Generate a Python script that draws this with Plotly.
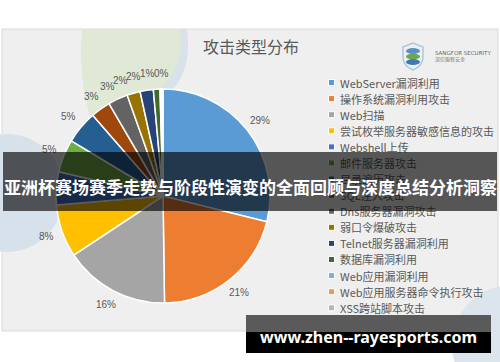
import math
import plotly.graph_objects as go

# ---------------- data ----------------
categories = ["WebServer漏洞利用", "操作系统漏洞利用攻击", "Web扫描", "尝试枚举服务器敏感信息的攻击",
              "Webshell上传", "邮件服务器攻击", "目录遍历攻击", "SQL注入攻击", "Dns服务器漏洞攻击",
              "弱口令爆破攻击", "Telnet服务器漏洞利用", "数据库漏洞利用", "Web应用漏洞利用",
              "Web应用服务器命令执行攻击", "XSS跨站脚本攻击"]
values = [29, 21, 16, 8, 5, 5, 5, 3, 3, 2, 2, 1, 0.2, 0.15, 0.1]
colors = ["#5B9BD5", "#ED7D31", "#A5A5A5", "#FFC000", "#4472C4", "#70AD47", "#255E91", "#9E480E",
          "#636363", "#997300", "#264478", "#43682B", "#7CAFDD", "#F1975A", "#B7B7B7"]
title_text = "攻击类型分布"
banner_text = "亚洲杯赛场赛季走势与阶段性演变的全面回顾与深度总结分析洞察"
site_text = "www.zhen--rayesports.com"

# ---------------- layout constants ----------------
W, H = 500, 362
CX, CY, R = 163, 196, 107
LABEL_R = R + 16
MIN_SEP = 6.5  # degrees between neighbouring labels
GRAY = "#595959"
CJK = "Noto Sans CJK SC"


def px(x):
    return x / W


def py(y):
    return 1 - y / H


def P(x, y):
    return f"{px(x):.5f},{py(y):.5f}"


fig = go.Figure()
fig.add_trace(go.Pie(
    labels=categories, values=values, sort=False, direction="clockwise", rotation=0,
    marker=dict(colors=colors, line=dict(color="white", width=1.5)),
    textinfo="none", hoverinfo="label+percent", showlegend=False,
    domain=dict(x=[px(CX - R), px(CX + R)], y=[py(CY + R), py(CY - R)]),
))

shapes = []
annotations = []

# chart area background
shapes.append(dict(type="rect", xref="paper", yref="paper", x0=px(2), x1=px(498), y0=py(331), y1=py(29),
                   fillcolor="#efefef", line=dict(color="#d9d9d9", width=1), layer="below"))

# decorative background shapes
shapes.append(dict(type="path", xref="paper", yref="paper", layer="below",
                   path=f"M{P(176,29)} L{P(187,29)} C{P(191,60)} {P(184,85)} {P(160,100)} L{P(150,96)} C{P(172,80)} {P(182,58)} {P(176,29)} Z",
                   fillcolor="#d9e1ea", line=dict(width=0)))
shapes.append(dict(type="path", xref="paper", yref="paper", layer="below",
                   path=f"M{P(82,29)} L{P(180,29)} C{P(184,62)} {P(172,82)} {P(150,96)} L{P(92,122)} C{P(82,92)} {P(79,60)} {P(82,29)} Z",
                   fillcolor="#e0e8d6", line=dict(width=0)))
shapes.append(dict(type="circle", xref="paper", yref="paper", layer="below",
                   x0=px(-50), x1=px(64), y0=py(252), y1=py(134),
                   fillcolor="#d7e1eb", line=dict(width=0)))
shapes.append(dict(type="circle", xref="paper", yref="paper", layer="below",
                   x0=px(452), x1=px(572), y0=py(405), y1=py(285),
                   fillcolor="#dce4ee", line=dict(width=0)))

# logo
shapes.append(dict(type="path", xref="paper", yref="paper",
                   path=f"M{P(403,47)} L{P(413,43)} L{P(423,47)} L{P(423,57)} Q{P(423,66)} {P(413,70)} Q{P(403,66)} {P(403,57)} Z",
                   fillcolor="rgba(0,0,0,0)", line=dict(color="#a9c8e3", width=1.5)))
for (y0, y1, c) in [(48, 54, "#5b8fc9"), (53.5, 59.5, "#6aa84f"), (59, 65, "#3f78b5")]:
    shapes.append(dict(type="circle", xref="paper", yref="paper", x0=px(406), x1=px(420),
                       y0=py(y1), y1=py(y0), fillcolor=c, line=dict(width=0)))
annotations.append(dict(x=px(433), y=py(53), xref="paper", yref="paper", xanchor="left", yanchor="middle",
                        text="SANGFOR SECURITY", showarrow=False,
                        font=dict(family="DejaVu Sans", size=5.5, color="#666666")))
annotations.append(dict(x=px(433), y=py(59.5), xref="paper", yref="paper", xanchor="left", yanchor="middle",
                        text="深信服智安全", showarrow=False,
                        font=dict(family=CJK, size=5, color="#777777")))

# title
annotations.append(dict(x=px(251), y=py(46), xref="paper", yref="paper", xanchor="center", yanchor="middle",
                        text=title_text, showarrow=False, font=dict(family=CJK, size=16, color=GRAY)))

# percentage labels computed from data (zero-percent neighbours share one label)
total = sum(values)
labels_info = []  # [text, mid_angle_deg]
cum = 0.0
for v in values:
    start = cum
    cum += v
    txt = f"{round(v / total * 100)}%"
    mid = (start + v / 2) / total * 360
    if labels_info and txt == "0%" and labels_info[-1][0] == "0%":
        labels_info[-1][1] = (labels_info[-1][2] + cum) / 2 / total * 360
        continue
    labels_info.append([txt, mid, start])

# push crowded labels apart, working back from the last one
for i in range(len(labels_info) - 2, -1, -1):
    if labels_info[i + 1][1] - labels_info[i][1] < MIN_SEP:
        labels_info[i][1] = labels_info[i + 1][1] - MIN_SEP

for txt, ang, _ in labels_info:
    a = math.radians(ang)
    lx = CX + LABEL_R * math.sin(a)
    ly = CY - LABEL_R * math.cos(a)
    annotations.append(dict(x=px(lx), y=py(ly), xref="paper", yref="paper", xanchor="center", yanchor="middle",
                            text=txt, showarrow=False,
                            font=dict(family="Liberation Sans", size=10, color=GRAY)))

# legend (squares + text)
LEG_Y0, LEG_DY = 82.5, 16.09
for i, (cat, col) in enumerate(zip(categories, colors)):
    yy = LEG_Y0 + i * LEG_DY
    shapes.append(dict(type="rect", xref="paper", yref="paper", x0=px(328.5), x1=px(334.5),
                       y0=py(yy + 3), y1=py(yy - 3), fillcolor=col, line=dict(color="white", width=1)))
    annotations.append(dict(x=px(338), y=py(yy), xref="paper", yref="paper", xanchor="left", yanchor="middle",
                            text=cat, showarrow=False, font=dict(family=CJK, size=11, color=GRAY)))

# overlay banner (annotation so it covers labels and legend)
annotations.append(dict(x=px(250), y=py(181.5), xref="paper", yref="paper", xanchor="center", yanchor="middle",
                        text=" ", showarrow=False, width=494, height=59, bgcolor="rgba(0,0,0,0.64)",
                        borderpad=0, borderwidth=0))
annotations.append(dict(x=px(250), y=py(186), xref="paper", yref="paper", xanchor="center", yanchor="middle",
                        text=f"<b>{banner_text}</b>", showarrow=False,
                        font=dict(family=CJK, size=17, color="white")))

# bottom site box
shapes.append(dict(type="rect", xref="paper", yref="paper", x0=px(246), x1=px(491), y0=py(332), y1=py(315),
                   fillcolor="#5a5a5a", line=dict(width=0)))
shapes.append(dict(type="rect", xref="paper", yref="paper", x0=px(246), x1=px(491), y0=py(353), y1=py(332),
                   fillcolor="#000000", line=dict(width=0)))
annotations.append(dict(x=px(368), y=py(337), xref="paper", yref="paper", xanchor="center", yanchor="middle",
                        text=f"<b>{site_text}</b>", showarrow=False,
                        font=dict(family="Noto Sans", size=16, color="white")))

fig.update_layout(width=W, height=H, margin=dict(l=0, r=0, t=0, b=0), autosize=False,
                  paper_bgcolor="white", plot_bgcolor="white",
                  shapes=shapes, annotations=annotations, showlegend=False)
fig.write_html("out.html")
